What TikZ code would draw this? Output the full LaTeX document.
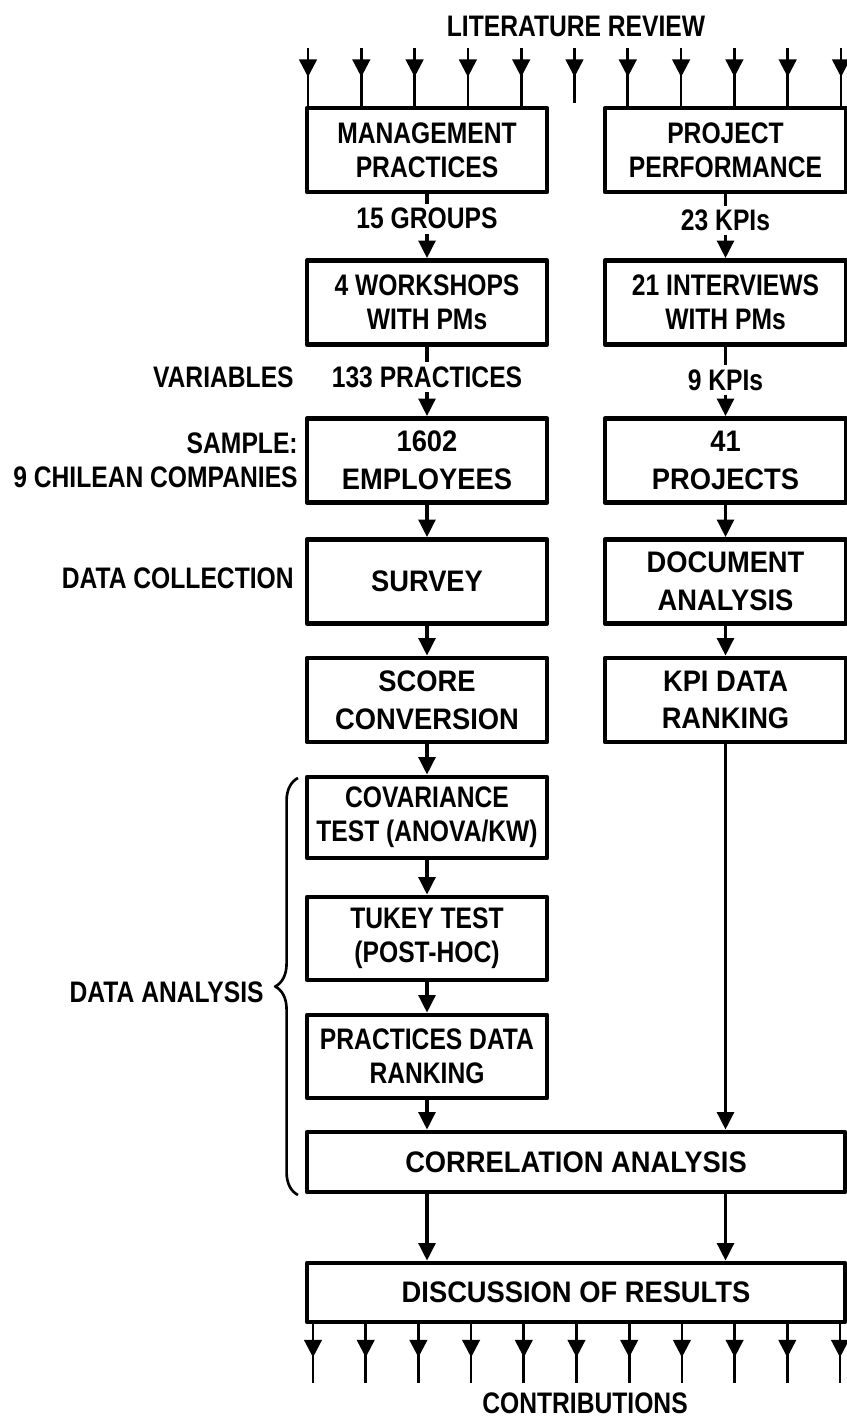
\documentclass[tikz,border=0pt]{standalone}
\usepackage{fontspec}
\setmainfont[FakeStretch=0.83]{Liberation Sans}
\newfontfamily\widefont[FakeStretch=0.92]{Liberation Sans}
\usetikzlibrary{arrows.meta,decorations.pathreplacing,decorations.markings}
\begin{document}
\begin{tikzpicture}[x=0.02cm,y=-0.02cm,line join=round,>={Triangle[width=9.5pt,length=10pt]},
		font=\bfseries\fontsize{16.9}{19.5}\selectfont]
			\tikzset{box/.style={draw,line width=2.7pt,align=center,inner sep=0pt,minimum width=4.8cm,minimum height=1.68cm},
				rbox/.style={box,minimum width=4.82cm},
				wbox/.style={box,minimum width=10.76cm,minimum height=1.2cm},
				wide/.style={font=\widefont\bfseries\fontsize{16.9}{21.5}\selectfont},
				flow/.style={->,line width=2pt},
				lbl/.style={fill=white,inner sep=2.5pt},
				side/.style={anchor=east,align=right,inner sep=0pt},
				litarrow/.style={line width=1.5pt,decoration={markings,mark=at position #1 with {\arrow{Triangle[width=10pt,length=10pt]}}},postaction={decorate}}}
			\useasboundingbox (0,0) rectangle (847,1420);
			\node (lit) at (576,26) {LITERATURE REVIEW};
			\node[box] (mp) at (427,150) {MANAGEMENT\\PRACTICES};
			\node[rbox] (pp) at (725.5,150) {PROJECT\\PERFORMANCE};
			\node[box] (ws) at (427,302.5) {4 WORKSHOPS\\WITH PMs};
			\node[rbox] (iv) at (725.5,302.5) {21 INTERVIEWS\\WITH PMs};
			\node[box,wide] (emp) at (427,460.5) {1602\\EMPLOYEES};
			\node[rbox,wide] (proj) at (725.5,460.5) {41\\PROJECTS};
			\node[box,wide] (srv) at (427,581.5) {SURVEY};
			\node[rbox,wide] (doc) at (725.5,581.5) {DOCUMENT\\ANALYSIS};
			\node[box,wide] (scr) at (427,700) {SCORE\\CONVERSION};
			\node[rbox,wide] (kpi) at (725.5,700) {KPI DATA\\RANKING};
			\node[box,minimum height=1.62cm] (cov) at (427,817.5) {COVARIANCE\\TEST (ANOVA/KW)};
			\node[box,minimum height=1.66cm] (tuk) at (427,938.5) {TUKEY TEST\\(POST-HOC)};
			\node[box,minimum height=1.66cm] (pdr) at (427,1056.5) {PRACTICES DATA\\RANKING};
			\node[wbox,wide] (corr) at (576,1162) {CORRELATION ANALYSIS};
			\node[wbox,wide,minimum height=1.18cm] (disc) at (576,1292.5) {DISCUSSION OF RESULTS};
			\node (contr) at (585,1403) {CONTRIBUTIONS};
			\node[side] (var) at (294,377) {VARIABLES};
			\node[side] (smp) at (298,460) {SAMPLE:\\9 CHILEAN COMPANIES};
			\node[side] (dcol) at (294,578) {DATA COLLECTION};
			\node[side] (dana) at (264,992) {DATA ANALYSIS};
			\draw[decorate,decoration={brace,amplitude=13pt},line width=1.5pt] (298,1195) -- (298,778);
			\foreach \i [evaluate=\i as \xa using 308+53.3*\i] in {0,...,4}
			\draw[litarrow=0.58cm] (\xa,48) -- (\xa,0 |- mp.north);
			\coordinate (gap) at (574.5,103);
			\draw[litarrow=0.58cm] (574.5,48) -- (gap);
			\foreach \i [evaluate=\i as \xa using 308+53.3*\i] in {6,...,10}
			\draw[litarrow=0.58cm] (\xa,48) -- (\xa,0 |- pp.north);
			\foreach \i [evaluate=\i as \xa using 313+52.7*\i] in {0,...,10}
			\draw[litarrow=0.66cm] (\xa,0 |- disc.south) -- (\xa,1383);
			\draw[flow] (mp) -- node[lbl,pos=0.38] (grp) {15 GROUPS} (ws);
			\draw[flow] (pp) -- node[lbl,pos=0.41] (kpa) {23 KPIs} (iv);
			\draw[flow] (ws) -- node[lbl,pos=0.44] (prc) {133 PRACTICES} (emp);
			\draw[flow] (iv) -- node[lbl,pos=0.48] (kpb) {9 KPIs} (proj);
			\draw[flow] (emp) -- (srv);
			\draw[flow] (proj) -- (doc);
			\draw[flow] (srv) -- (scr);
			\draw[flow] (doc) -- (kpi);
			\draw[flow] (scr) -- (cov);
			\draw[flow] (cov) -- (tuk);
			\draw[flow] (tuk) -- (pdr);
			\draw[flow] (pdr) -- (pdr |- corr.north);
			\draw[flow] (kpi) -- (kpi |- corr.north);
			\draw[flow] (pdr |- corr.south) -- (pdr |- disc.north);
			\draw[flow] (kpi |- corr.south) -- (kpi |- disc.north);
		\end{tikzpicture}
\end{document}
